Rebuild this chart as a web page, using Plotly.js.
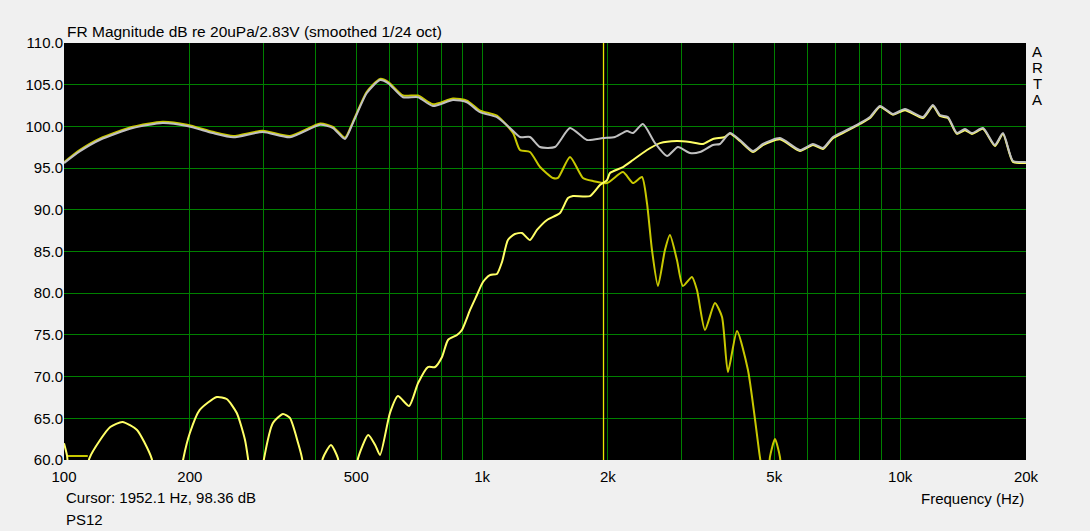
<!DOCTYPE html>
<html>
<head>
<meta charset="utf-8">
<script src="https://cdn.plot.ly/plotly-3.0.1.min.js"></script>
<style>
html,body{margin:0;padding:0;background:#f0f0f0;}
#chart{width:1090px;height:531px;}
</style>
</head>
<body>
<div id="chart"></div>
<script>
// Summed response (gray)
const sumFreq = [100,109,122,146,172,197,227,254,299,347,410,440,470,491,530,570,596,647,703,763,852,920,989,1085,1166,1232,1302,1376,1494,1623,1782,1946,2079,2221,2296,2425,2592,2769,2941,3142,3320,3567,3707,3917,4139,4446,4697,5158,5759,6186,6535,6907,7459,8012,8469,8947,9610,10270,11340,11980,12450,13010,13670,14290,14850,15780,16850,17620,18610,19890,20000];
const sumDb   = [95.6,97.0,98.4,99.8,100.4,100.05,99.2,98.7,99.33,98.7,100.2,99.8,98.5,100.4,104.0,105.56,105.2,103.5,103.5,102.45,103.17,102.9,101.7,101.1,99.8,98.73,98.73,97.53,97.53,99.8,98.37,98.6,98.73,99.45,99.2,100.29,98.0,96.45,97.53,96.81,96.93,97.77,97.89,99.2,98.37,97.05,97.89,98.6,97.17,97.89,97.41,98.73,99.57,100.4,101.13,102.45,101.49,102.09,101.13,102.57,101.37,101.13,99.2,99.69,99.2,99.8,97.77,99.2,95.85,95.73,95.7];

// Woofer (dark yellow)
const wooferFreq = [100,109,122,146,172,197,227,254,299,347,410,440,470,491,530,570,596,647,703,763,852,920,989,1085,1186,1232,1302,1376,1478,1519,1623,1743,1842,1990,2173,2296,2412,2480,2549,2635,2738,2814,2925,3023,3177,3266,3413,3606,3749,3873,4071,4325,4619,4700];
const wooferDb   = [95.7,97.15,98.55,99.95,100.55,100.2,99.35,98.85,99.48,98.85,100.35,99.95,98.65,100.55,104.15,105.7,105.35,103.7,103.7,102.65,103.35,103.1,101.9,101.3,99.2,97.17,96.93,95.13,93.82,93.82,96.33,93.82,93.45,93.21,94.53,93.21,93.93,90.81,85.18,80.86,85.18,86.98,83.98,80.86,81.94,80.38,75.59,78.82,77.15,70.55,75.47,70.79,60.36,58.0];
const wooferTailFreq = [4850,4883,5019,5158,5200];
const wooferTailDb   = [58.0,60.4,62.52,60.36,58.0];

// Tweeter (bright yellow)
const tweeterFreq = [100,101.7,102.5,null,113,115,122,129,138,149.5,156,162,165,null,190,193,200,211,232,245,259,271,275.5,279,null,297,301,316,334,347,363,371,375,null,412,416,435,452,456,null,500,505,534,555,570,602,629,669,703,742,772,802,829,871,895,936,972,1005,1044,1085,1116,1153,1198,1245,1302,1353,1430,1536,1605,1650,1812,1914,1990,2023,2173,2296,2480,2665,2925,3142,3376,3567,3811,3917,4139,4446,4697,5158,5759,6186,6535,6907,7459,8012,8469,8947,9610,10270,11340,11980,12450,13010,13670,14290,14850,15780,16850,17620,18610,19890,20000];
const tweeterDb   = [62.0,60.5,58.0,null,58.0,60.2,62.4,63.96,64.56,63.6,62.04,60.2,58.0,null,58.0,60.2,63.24,65.99,67.55,67.31,65.63,62.4,60.2,58.0,null,58.0,60.2,64.44,65.52,65.04,62.04,60.2,58.0,null,58.0,60.2,61.8,60.2,58.0,null,58.0,60.2,63.0,61.8,60.6,65.63,67.67,66.47,69.23,71.15,71.15,72.35,74.39,74.99,75.59,77.99,79.78,81.34,82.18,82.3,83.74,86.38,87.1,87.22,86.38,87.58,88.78,89.62,91.41,91.65,91.65,92.97,93.57,94.41,95.13,95.97,97.17,98.0,98.25,98.13,97.89,98.49,98.73,99.15,98.25,96.93,97.77,98.45,97.05,97.77,97.3,98.6,99.45,100.3,101.0,102.35,101.4,101.95,101.0,102.45,101.25,101.0,99.1,99.55,99.1,99.7,97.65,99.1,95.75,95.6,95.6];

// Reference segment at bottom left (dark yellow)
const refFreq = [101.7,114];
const refDb   = [60.48,60.48];

// Cursor
const cursorFreq = 1952.1;
const cursorDb = 98.36;

// Axis ticks
const xGridVals = [100,200,300,400,500,600,700,800,900,1000,2000,3000,4000,5000,6000,7000,8000,9000,10000,20000];
const xGridText = ['100','200','','','500','','','','','1k','2k','','','5k','','','','','10k','20k'];
const yTickVals = [60,65,70,75,80,85,90,95,100,105,110];
const yTickText = yTickVals.map(v => v.toFixed(1));

const FONT = '"Liberation Sans", Arial, sans-serif';
const FS = 15;

const traces = [
  {x:[cursorFreq,cursorFreq], y:[60,110], mode:'lines', line:{color:'#e8e800', width:1.3}, hoverinfo:'skip'},
  {x:refFreq, y:refDb, mode:'lines', line:{color:'#c8c800', width:2}},
  {x:wooferFreq, y:wooferDb, mode:'lines', line:{color:'#c8c800', width:2, shape:'spline', smoothing:0.6}},
  {x:wooferTailFreq, y:wooferTailDb, mode:'lines', line:{color:'#c8c800', width:2, shape:'spline', smoothing:0.6}},
  {x:tweeterFreq, y:tweeterDb, mode:'lines', line:{color:'#ffff66', width:2, shape:'spline', smoothing:0.6}, connectgaps:false},
  {x:sumFreq, y:sumDb, mode:'lines', line:{color:'#c0c0c0', width:2, shape:'spline', smoothing:0.6}}
];

const artaLetters = ['A','R','T','A'];
const artaAnn = artaLetters.map((ch, i) => ({
  xref:'paper', yref:'paper', x:1, y:1, xanchor:'center', yanchor:'middle',
  xshift:11, yshift:-8 - 16*i, text:ch, showarrow:false,
  font:{family:FONT, size:FS, color:'#000'}
}));

const layout = {
  width:1090, height:531,
  margin:{l:64, r:64, t:43, b:71},
  paper_bgcolor:'#f0f0f0',
  plot_bgcolor:'#000000',
  showlegend:false,
  font:{family:FONT, size:FS, color:'#000'},
  xaxis:{
    type:'log', range:[2, Math.log10(20000)],
    tickmode:'array', tickvals:xGridVals, ticktext:xGridText,
    showgrid:true, gridcolor:'#008000', gridwidth:1,
    zeroline:false, showline:false, ticks:'', ticklabelstandoff:6,
    tickfont:{family:FONT, size:FS, color:'#000'}
  },
  yaxis:{
    range:[60,110],
    tickmode:'array', tickvals:yTickVals, ticktext:yTickText,
    showgrid:true, gridcolor:'#008000', gridwidth:1,
    zeroline:false, showline:false, ticks:'',
    tickfont:{family:FONT, size:FS, color:'#000'}
  },
  annotations:[
    {xref:'paper', yref:'paper', x:0, y:1, xanchor:'left', yanchor:'bottom', xshift:1, yshift:1,
     text:'FR Magnitude dB re 20uPa/2.83V (smoothed 1/24 oct)', showarrow:false, font:{family:FONT, size:15.5, color:'#000'}},
    {xref:'paper', yref:'paper', x:0, y:0, xanchor:'left', yanchor:'middle', yshift:-37,
     text:'Cursor: ' + cursorFreq.toFixed(1) + ' Hz, ' + cursorDb.toFixed(2) + ' dB', showarrow:false, font:{family:FONT, size:FS, color:'#000'}},
    {xref:'paper', yref:'paper', x:0, y:0, xanchor:'left', yanchor:'middle', yshift:-59,
     text:'PS12', showarrow:false, font:{family:FONT, size:FS, color:'#000'}},
    {xref:'paper', yref:'paper', x:1, y:0, xanchor:'right', yanchor:'middle', yshift:-38,
     text:'Frequency (Hz)', showarrow:false, font:{family:FONT, size:FS, color:'#000'}}
  ].concat(artaAnn)
};

Plotly.newPlot('chart', traces, layout, {staticPlot:true, displayModeBar:false});
</script>
</body>
</html>
